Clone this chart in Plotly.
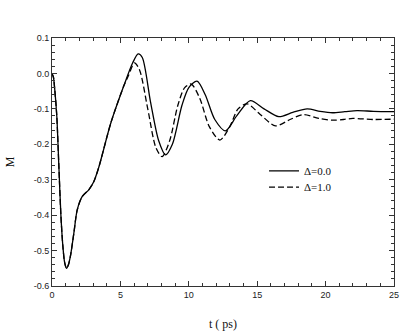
import plotly.graph_objects as go

# Delta = 0.0 (solid)
t_d0 = [0, 0.1, 0.2, 0.35, 0.5, 0.65, 0.8, 0.93, 1.06, 1.2, 1.35, 1.6, 1.84, 2.2,
        2.7, 3.06, 3.42, 4.3, 5.25, 5.9, 6.3, 6.6, 7.2, 7.8, 8.3, 8.8, 9.5, 10.0,
        10.6, 11.2, 11.9, 12.68, 13.5, 14.5, 15.5, 16.58, 17.6, 18.65, 19.6, 20.5,
        21.4, 22.3, 23.5, 25]
m_d0 = [0, -0.01, -0.045, -0.12, -0.26, -0.4, -0.49, -0.535, -0.55, -0.54, -0.515,
        -0.45, -0.386, -0.348, -0.328, -0.305, -0.265, -0.14, -0.035, 0.03, 0.055,
        0.045, -0.08, -0.19, -0.23, -0.2, -0.09, -0.04, -0.022, -0.06, -0.13,
        -0.162, -0.12, -0.077, -0.1, -0.122, -0.11, -0.1, -0.107, -0.111, -0.108,
        -0.105, -0.107, -0.108]

# Delta = 1.0 (dashed)
t_d1 = [0, 0.1, 0.2, 0.35, 0.5, 0.65, 0.8, 0.93, 1.06, 1.2, 1.35, 1.6, 1.84, 2.2,
        2.7, 3.06, 3.42, 4.3, 5.25, 5.6, 6.03, 6.4, 7.0, 7.6, 8.05, 8.6, 9.2, 9.7,
        10.18, 10.8, 11.5, 12.27, 13.0, 13.6, 14.27, 15.2, 16.34, 17.4, 18.4, 19.5,
        20.5, 21.3, 22.0, 23.5, 25]
m_d1 = [0, -0.01, -0.045, -0.12, -0.26, -0.4, -0.49, -0.535, -0.55, -0.54, -0.515,
        -0.45, -0.386, -0.348, -0.328, -0.305, -0.265, -0.14, -0.035, -0.005, 0.03,
        0.01, -0.1, -0.21, -0.235, -0.19, -0.09, -0.04, -0.03, -0.07, -0.15,
        -0.188, -0.15, -0.1, -0.086, -0.115, -0.148, -0.13, -0.116, -0.127,
        -0.132, -0.13, -0.127, -0.13, -0.129]

y_ticks = [0.1, 0.0, -0.1, -0.2, -0.3, -0.4, -0.5, -0.6]
y_labels = ["0.1", "0.0", "-0.1", "-0.2", "-0.3", "-0.4", "-0.5", "-0.6"]

fig = go.Figure()
fig.add_trace(go.Scatter(
    x=t_d0, y=m_d0, mode='lines', name='Δ=0.0', legend='legend',
    line=dict(color='black', width=1.3, shape='spline', smoothing=0.8)
))
fig.add_trace(go.Scatter(
    x=t_d1, y=m_d1, mode='lines', name='Δ=1.0', legend='legend2',
    line=dict(color='black', width=1.3, dash='6px,3px', shape='spline', smoothing=0.8)
))

axis_common = dict(
    showgrid=False, zeroline=False, showline=True, linecolor='#333', linewidth=1,
    ticks='inside', ticklen=5, tickcolor='#333', mirror='ticks', automargin=False,
    tickfont=dict(family='Liberation Sans, Arial', size=9, color='#222'),
)

legend_common = dict(
    x=0.62, xanchor='left', yanchor='middle',
    bgcolor='rgba(0,0,0,0)', borderwidth=0,
    font=dict(family='Liberation Serif, Times New Roman', size=11, color='#111'),
    itemwidth=30
)

fig.update_layout(
    width=415, height=331,
    margin=dict(l=52, r=21, t=38, b=45),
    paper_bgcolor='white', plot_bgcolor='white',
    xaxis=dict(
        range=[0, 25], tickvals=[0, 5, 10, 15, 20, 25],
        minor=dict(dtick=1, ticks='inside', ticklen=3, tickcolor='#333'),
        title=dict(text='t ( ps)', font=dict(family='Liberation Serif, Times New Roman', size=12, color='#111'), standoff=22),
        **axis_common
    ),
    yaxis=dict(
        range=[-0.6, 0.1], tickvals=y_ticks, ticktext=y_labels,
        minor=dict(dtick=0.02, tick0=0, ticks='inside', ticklen=3, tickcolor='#333'),
        title=dict(text='M', font=dict(family='Liberation Serif, Times New Roman', size=12, color='#111'), standoff=16),
        **axis_common
    ),
    legend=dict(y=0.464, **legend_common),
    legend2=dict(y=0.399, **legend_common),
    showlegend=True,
)

fig.write_html("out.html", config={'displayModeBar': False},
               post_script="document.body.style.margin='0';")
